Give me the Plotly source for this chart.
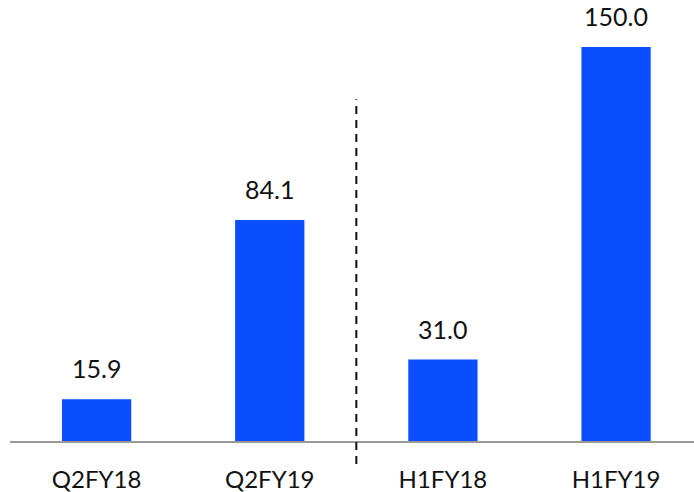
import plotly.graph_objects as go

categories = ["Q2FY18", "Q2FY19", "H1FY18", "H1FY19"]
values = [15.9, 84.1, 31.0, 150.0]
value_labels = ["15.9", "84.1", "31.0", "150.0"]

BAR_COLOR = "#0A4EFF"
FONT = "Lato"

x = list(range(len(categories)))

fig = go.Figure()
fig.add_trace(go.Bar(
    x=x, y=values, width=0.4, marker=dict(color=BAR_COLOR, line=dict(width=0)),
    hoverinfo="skip",
))

for xi, v, lab in zip(x, values, value_labels):
    fig.add_annotation(x=xi, y=v, text=lab, showarrow=False, yanchor="bottom",
                       yshift=14, font=dict(family=FONT, size=25, color="#111111"))

# divider between quarterly and half-year groups
fig.add_shape(type="line", xref="x", yref="paper", x0=1.5, x1=1.5,
              y0=-0.052, y1=0.775, line=dict(color="#111111", width=2, dash="8px,6px"))

fig.update_layout(
    width=694, height=492, margin=dict(l=10, r=0, t=0, b=51),
    paper_bgcolor="white", plot_bgcolor="white", showlegend=False,
    font=dict(family=FONT, size=24, color="#111111"),
)
fig.update_xaxes(range=[-0.5, 3.45], tickmode="array", tickvals=x, ticktext=categories,
                 showline=True, linecolor="#999999", linewidth=2, showgrid=False,
                 zeroline=False, ticks="outside", ticklen=16, tickcolor="rgba(0,0,0,0)",
                 tickfont=dict(family=FONT, size=24, color="#111111"))
fig.update_yaxes(range=[0, 167.9], visible=False, showgrid=False, zeroline=False)

fig.write_html("out.html")
